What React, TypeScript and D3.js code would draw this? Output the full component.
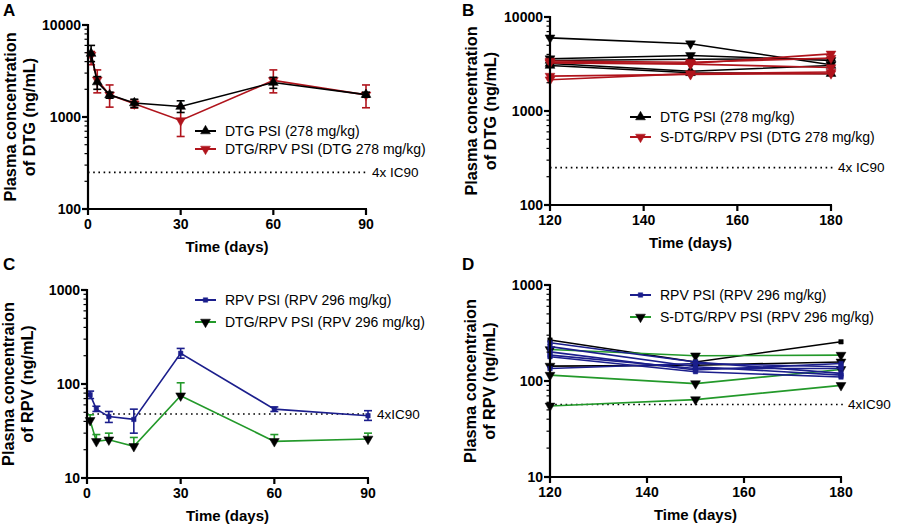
import React from "react";
import * as d3 from "d3";

// ---------- DATA ----------
// Panel A: DTG mean (with error range)
const daysA = [1, 3, 7, 15, 30, 60, 90];
const dtgPsiMean = [4900, 2400, 1740, 1420, 1300, 2370, 1750];
const dtgPsiLow = [4000, 2000, 1600, 1270, 1120, 2050, 1640];
const dtgPsiHigh = [6000, 2750, 1860, 1560, 1500, 2700, 1860];
const dtgRpvMean = [4700, 2530, 1740, 1390, 916, 2500, 1740];
const dtgRpvLow = [3700, 1830, 1280, 1250, 614, 1830, 1260];
const dtgRpvHigh = [5150, 3250, 2230, 1540, 1320, 3250, 2230];

// Panel B: individual DTG values
const daysB = [120, 150, 180];
const dtgPsiIndiv = [
  [6000, 5200, 3100],
  [3600, 3900, 3450],
  [3450, 3550, 3600],
  [3200, 2650, 3050],
  [3050, 2550, 2500],
];
const dtgPsiIndivShape = ["down", "down", "up", "up", "up"];
const sdtgRpvIndiv = [
  [3300, 3200, 4050],
  [3400, 3300, 3650],
  [2350, 2450, 2500],
  [2150, 2500, 2600],
  [3250, 3150, 2900],
];

// Panel C: RPV mean (with error range)
const daysC = [1, 3, 7, 15, 30, 60, 90];
const rpvMean = [77, 54, 45, 42, 212, 54, 46];
const rpvLow = [70, 51, 39, 30, 188, 51, 41];
const rpvHigh = [84, 58, 51, 54, 239, 57, 52];
const dtgRpvRpvMean = [41, 24.5, 25.5, 21.7, 75, 24.5, 26];
const dtgRpvRpvHigh = [47, 29, 30, 27, 103, 29, 30];

// Panel D: individual RPV values
const daysD = [120, 150, 180];
const rpvBlackIndiv = [
  [267, 158, 256],
  [143, 146, 158],
];
const sdtgRpvRpvIndiv = [
  [213, 183, 186],
  [115, 94, 132],
  [55, 64, 90],
];
const rpvIndiv = [
  [250, 158, 120],
  [228, 141, 115],
  [201, 130, 152],
  [186, 135, 135],
  [135, 152, 141],
  [179, 125, 110],
];

const xTicksEarly = [0, 30, 60, 90];
const xTicksLate = [120, 140, 160, 180];
const yTicksDTG = [100, 1000, 10000];
const yTicksRPV = [10, 100, 1000];
const ic90DTG = 250;
const ic90RPV_C = 48;
const ic90RPV_D = 57;

// ---------- STYLE ----------
const BLACK = "#000000";
const RED = "#B0141C";
const BLUE = "#1B1E8C";
const GREEN = "#23992A";
const FONT = "'Liberation Sans', Arial, sans-serif";

type Series = {
  xs: number[];
  ys: number[];
  lo?: number[];
  hi?: number[];
  color: string;
  markerColor: string;
  shape: "up" | "down" | "square";
};

function symbolPath(shape: string) {
  if (shape === "square") return d3.symbol(d3.symbolSquare, 20)() as string;
  return d3.symbol(d3.symbolTriangle, 42)() as string;
}

function Marker({ shape, cx, cy, fill }: { shape: string; cx: number; cy: number; fill: string }) {
  const rot = shape === "down" ? 180 : 0;
  return (
    <path
      d={symbolPath(shape)}
      transform={`translate(${cx},${cy}) rotate(${rot})`}
      fill={fill}
      stroke={fill}
      strokeWidth={0.5}
    />
  );
}

type PanelCfg = {
  letter: string;
  letterPos: [number, number];
  xDomain: [number, number];
  xRange: [number, number];
  xTicks: number[];
  yDomain: [number, number];
  yRange: [number, number];
  yTicks: number[];
  yLabel: [string, string];
  yLabelX: [number, number];
  series: Series[];
  ic90: number;
  ic90End: number;
  ic90Text: string;
  legend: { label: string; color: string; markerColor: string; shape: string }[];
  legendX: number;
  legendY: number[];
};

function Panel({ cfg }: { cfg: PanelCfg }) {
  const x = d3.scaleLinear().domain(cfg.xDomain).range(cfg.xRange);
  const y = d3.scaleLog().domain(cfg.yDomain).range(cfg.yRange);
  const x0 = cfg.xRange[0];
  const yb = cfg.yRange[0];
  const yt = cfg.yRange[1];
  const line = d3
    .line<[number, number]>()
    .x((d) => x(d[0]))
    .y((d) => y(d[1]));

  const minor: number[] = [];
  const [lo, hi] = cfg.yDomain;
  for (let dec = lo; dec < hi; dec *= 10) {
    for (let k = 2; k <= 9; k++) minor.push(dec * k);
  }

  const cap = 4;
  return (
    <g fontFamily={FONT}>
      <text x={cfg.letterPos[0]} y={cfg.letterPos[1]} fontSize={17} fontWeight="bold">
        {cfg.letter}
      </text>
      <line
        x1={x0}
        x2={cfg.ic90End}
        y1={y(cfg.ic90)}
        y2={y(cfg.ic90)}
        stroke="#000"
        strokeWidth={1.6}
        strokeDasharray="1.6,3.6"
      />
      <text x={cfg.ic90End + 5} y={y(cfg.ic90)} dy="0.35em" fontSize={13.5}>
        {cfg.ic90Text}
      </text>
      {cfg.series.map((s, i) => (
        <g key={i}>
          <path
            d={line(s.xs.map((v, j) => [v, s.ys[j]] as [number, number])) as string}
            fill="none"
            stroke={s.color}
            strokeWidth={1.6}
          />
          {s.xs.map((v, j) => {
            if (!s.hi && !s.lo) return null;
            const top = s.hi ? s.hi[j] : s.ys[j];
            const bot = s.lo ? s.lo[j] : s.ys[j];
            return (
              <g key={j} stroke={s.color} strokeWidth={1.6}>
                <line x1={x(v)} x2={x(v)} y1={y(top)} y2={y(bot)} />
                {s.hi && <line x1={x(v) - cap} x2={x(v) + cap} y1={y(top)} y2={y(top)} />}
                {s.lo && <line x1={x(v) - cap} x2={x(v) + cap} y1={y(bot)} y2={y(bot)} />}
              </g>
            );
          })}
          {s.xs.map((v, j) => (
            <Marker key={"m" + j} shape={s.shape} cx={x(v)} cy={y(s.ys[j])} fill={s.markerColor} />
          ))}
        </g>
      ))}
      <line x1={x0} x2={x0} y1={yb + 1} y2={yt - 1} stroke="#000" strokeWidth={2.2} />
      <line x1={x0 - 1} x2={cfg.xRange[1] + 1} y1={yb} y2={yb} stroke="#000" strokeWidth={2.2} />
      {cfg.yTicks.map((t) => (
        <g key={t}>
          <line x1={x0 - 6} x2={x0} y1={y(t)} y2={y(t)} stroke="#000" strokeWidth={2.2} />
          <text x={x0 - 7} y={y(t)} dy="0.36em" textAnchor="end" fontSize={14} fontWeight="bold">
            {t}
          </text>
        </g>
      ))}
      {minor.map((t) => (
        <line key={"mn" + t} x1={x0 - 3.5} x2={x0} y1={y(t)} y2={y(t)} stroke="#000" strokeWidth={1.2} />
      ))}
      {cfg.xTicks.map((t) => (
        <g key={"x" + t}>
          <line x1={x(t)} x2={x(t)} y1={yb} y2={yb + 6} stroke="#000" strokeWidth={2.2} />
          <text x={x(t)} y={yb + 20} textAnchor="middle" fontSize={14} fontWeight="bold">
            {t}
          </text>
        </g>
      ))}
      <text
        x={(cfg.xRange[0] + cfg.xRange[1]) / 2}
        y={yb + 43}
        textAnchor="middle"
        fontSize={15}
        fontWeight="bold"
      >
        Time (days)
      </text>
      {cfg.yLabel.map((l, i) => (
        <text
          key={l}
          transform={`translate(${cfg.yLabelX[i]},${(yb + yt) / 2}) rotate(-90)`}
          textAnchor="middle"
          fontSize={16.3}
          fontWeight="bold"
        >
          {l}
        </text>
      ))}
      {cfg.legend.map((l, i) => (
        <g key={"lg" + i}>
          <line
            x1={cfg.legendX}
            x2={cfg.legendX + 21}
            y1={cfg.legendY[i]}
            y2={cfg.legendY[i]}
            stroke={l.color}
            strokeWidth={2}
          />
          <Marker shape={l.shape} cx={cfg.legendX + 10.5} cy={cfg.legendY[i]} fill={l.markerColor} />
          <text x={cfg.legendX + 30} y={cfg.legendY[i]} dy="0.35em" fontSize={14}>
            {l.label}
          </text>
        </g>
      ))}
    </g>
  );
}

export default function App() {
  const panels: PanelCfg[] = [
    {
      letter: "A",
      letterPos: [3, 16],
      xDomain: [0, 90],
      xRange: [88, 366],
      xTicks: xTicksEarly,
      yDomain: [100, 10000],
      yRange: [209, 25],
      yTicks: yTicksDTG,
      yLabel: ["Plasma concentration", "of DTG (ng/mL)"],
      yLabelX: [16, 35],
      series: [
        { xs: daysA, ys: dtgRpvMean, lo: dtgRpvLow, hi: dtgRpvHigh, color: RED, markerColor: RED, shape: "down" },
        { xs: daysA, ys: dtgPsiMean, lo: dtgPsiLow, hi: dtgPsiHigh, color: BLACK, markerColor: BLACK, shape: "up" },
      ],
      ic90: ic90DTG,
      ic90End: 367,
      ic90Text: "4x IC90",
      legend: [
        { label: "DTG PSI (278 mg/kg)", color: BLACK, markerColor: BLACK, shape: "up" },
        { label: "DTG/RPV PSI (DTG 278 mg/kg)", color: RED, markerColor: RED, shape: "down" },
      ],
      legendX: 195,
      legendY: [131, 149],
    },
    {
      letter: "B",
      letterPos: [462, 16],
      xDomain: [120, 180],
      xRange: [550, 831],
      xTicks: xTicksLate,
      yDomain: [100, 10000],
      yRange: [205, 17],
      yTicks: yTicksDTG,
      yLabel: ["Plasma concentration", "of DTG (ng/mL)"],
      yLabelX: [477, 496],
      series: [
        ...dtgPsiIndiv.map((v, i) => ({
          xs: daysB,
          ys: v,
          color: BLACK,
          markerColor: BLACK,
          shape: dtgPsiIndivShape[i] as any,
        })),
        ...sdtgRpvIndiv.map((v) => ({ xs: daysB, ys: v, color: RED, markerColor: RED, shape: "down" as const })),
      ],
      ic90: ic90DTG,
      ic90End: 833,
      ic90Text: "4x IC90",
      legend: [
        { label: "DTG PSI (278 mg/kg)", color: BLACK, markerColor: BLACK, shape: "up" },
        { label: "S-DTG/RPV PSI (DTG 278 mg/kg)", color: RED, markerColor: RED, shape: "down" },
      ],
      legendX: 630,
      legendY: [117, 137],
    },
    {
      letter: "C",
      letterPos: [3, 270],
      xDomain: [0, 90],
      xRange: [87, 368],
      xTicks: xTicksEarly,
      yDomain: [10, 1000],
      yRange: [478, 290],
      yTicks: yTicksRPV,
      yLabel: ["Plasma concentraion", "of RPV (ng/mL)"],
      yLabelX: [14, 33],
      series: [
        { xs: daysC, ys: rpvMean, lo: rpvLow, hi: rpvHigh, color: BLUE, markerColor: BLUE, shape: "square" },
        { xs: daysC, ys: dtgRpvRpvMean, hi: dtgRpvRpvHigh, color: GREEN, markerColor: BLACK, shape: "down" },
      ],
      ic90: ic90RPV_C,
      ic90End: 372,
      ic90Text: "4xIC90",
      legend: [
        { label: "RPV PSI (RPV 296 mg/kg)", color: BLUE, markerColor: BLUE, shape: "square" },
        { label: "DTG/RPV PSI (RPV 296 mg/kg)", color: GREEN, markerColor: BLACK, shape: "down" },
      ],
      legendX: 195,
      legendY: [300, 322],
    },
    {
      letter: "D",
      letterPos: [462, 270],
      xDomain: [120, 180],
      xRange: [550, 841],
      xTicks: xTicksLate,
      yDomain: [10, 1000],
      yRange: [477, 285],
      yTicks: yTicksRPV,
      yLabel: ["Plasma concentraion", "of RPV (ng/mL)"],
      yLabelX: [476, 495],
      series: [
        ...rpvBlackIndiv.map((v, i) => ({
          xs: daysD,
          ys: v,
          color: BLACK,
          markerColor: BLACK,
          shape: (i === 0 ? "square" : "down") as any,
        })),
        ...sdtgRpvRpvIndiv.map((v) => ({ xs: daysD, ys: v, color: GREEN, markerColor: BLACK, shape: "down" as const })),
        ...rpvIndiv.map((v) => ({ xs: daysD, ys: v, color: BLUE, markerColor: BLUE, shape: "square" as const })),
      ],
      ic90: ic90RPV_D,
      ic90End: 843,
      ic90Text: "4xIC90",
      legend: [
        { label: "RPV PSI (RPV 296 mg/kg)", color: BLUE, markerColor: BLUE, shape: "square" },
        { label: "S-DTG/RPV PSI (RPV 296 mg/kg)", color: GREEN, markerColor: BLACK, shape: "down" },
      ],
      legendX: 630,
      legendY: [295, 317],
    },
  ];
  return (
    <svg width={905} height={526} style={{ position: "absolute", left: 0, top: 0, background: "#fff" }}>
      <rect width={905} height={526} fill="#fff" />
      {panels.map((p) => (
        <Panel key={p.letter} cfg={p} />
      ))}
    </svg>
  );
}
